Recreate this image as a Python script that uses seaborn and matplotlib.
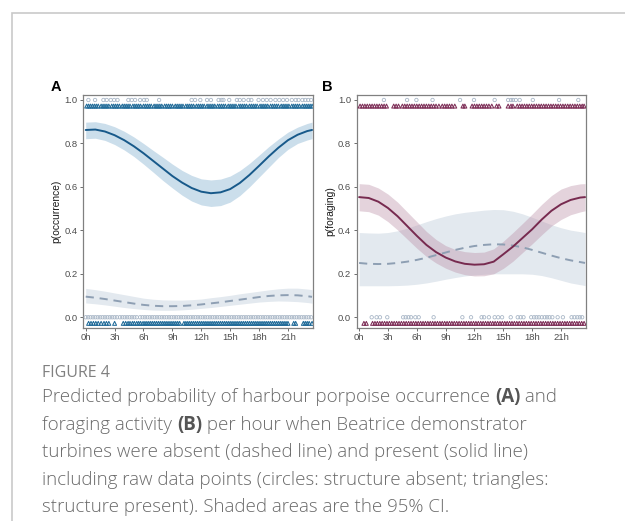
import numpy as np
import pandas as pd
import matplotlib
matplotlib.use("Agg")
import matplotlib.pyplot as plt
import seaborn as sns
from matplotlib.patches import Rectangle

# ---------------- data ----------------
hours = [0, 1, 2, 3, 4, 5, 6, 7, 8, 9, 10, 11, 12, 13, 14, 15, 16, 17, 18, 19, 20, 21, 22, 23, 23.5]

occ_present = [0.862, 0.864, 0.855, 0.838, 0.815, 0.787, 0.755, 0.72, 0.685, 0.65, 0.62, 0.595, 0.578,
               0.571, 0.575, 0.59, 0.618, 0.655, 0.697, 0.74, 0.78, 0.815, 0.84, 0.857, 0.862]
occ_present_lo = [0.822, 0.824, 0.814, 0.795, 0.77, 0.74, 0.705, 0.668, 0.63, 0.595, 0.562, 0.535, 0.517,
                  0.51, 0.514, 0.53, 0.56, 0.6, 0.645, 0.69, 0.735, 0.773, 0.8, 0.816, 0.822]
occ_present_hi = [0.898, 0.9, 0.892, 0.877, 0.856, 0.83, 0.8, 0.768, 0.737, 0.705, 0.676, 0.653, 0.637,
                  0.632, 0.636, 0.65, 0.675, 0.708, 0.746, 0.785, 0.82, 0.852, 0.875, 0.892, 0.898]
occ_absent = [0.095, 0.09, 0.084, 0.077, 0.07, 0.063, 0.057, 0.053, 0.051, 0.051, 0.052, 0.055, 0.059,
              0.064, 0.069, 0.075, 0.081, 0.087, 0.093, 0.098, 0.101, 0.102, 0.101, 0.097, 0.094]
occ_absent_lo = [0.066, 0.062, 0.057, 0.051, 0.045, 0.04, 0.036, 0.033, 0.032, 0.032, 0.034, 0.037, 0.041,
                 0.045, 0.05, 0.055, 0.06, 0.065, 0.07, 0.073, 0.075, 0.074, 0.072, 0.068, 0.065]
occ_absent_hi = [0.133, 0.127, 0.12, 0.112, 0.104, 0.096, 0.088, 0.083, 0.08, 0.079, 0.079, 0.081, 0.084,
                 0.09, 0.095, 0.101, 0.108, 0.114, 0.12, 0.126, 0.131, 0.134, 0.134, 0.13, 0.127]

for_present = [0.553, 0.549, 0.532, 0.503, 0.465, 0.42, 0.375, 0.333, 0.3, 0.275, 0.257, 0.246, 0.242,
               0.244, 0.256, 0.29, 0.325, 0.365, 0.405, 0.45, 0.49, 0.52, 0.54, 0.551, 0.553]
for_present_lo = [0.49, 0.486, 0.47, 0.44, 0.402, 0.36, 0.318, 0.28, 0.25, 0.226, 0.208, 0.196, 0.19,
                  0.191, 0.2, 0.225, 0.258, 0.298, 0.338, 0.38, 0.42, 0.45, 0.472, 0.485, 0.49]
for_present_hi = [0.615, 0.612, 0.595, 0.567, 0.53, 0.485, 0.44, 0.395, 0.358, 0.33, 0.312, 0.302, 0.298,
                  0.3, 0.315, 0.35, 0.39, 0.432, 0.475, 0.52, 0.56, 0.59, 0.606, 0.614, 0.615]
for_absent = [0.25, 0.246, 0.245, 0.246, 0.25, 0.256, 0.264, 0.274, 0.286, 0.298, 0.31, 0.32, 0.328,
              0.333, 0.336, 0.335, 0.33, 0.322, 0.31, 0.297, 0.284, 0.272, 0.262, 0.254, 0.25]
for_absent_lo = [0.145, 0.145, 0.145, 0.145, 0.146, 0.148, 0.152, 0.158, 0.166, 0.175, 0.183, 0.19, 0.195,
                 0.198, 0.2, 0.2, 0.2, 0.2, 0.198, 0.192, 0.182, 0.17, 0.158, 0.15, 0.146]
for_absent_hi = [0.39, 0.388, 0.387, 0.39, 0.398, 0.41, 0.425, 0.44, 0.454, 0.466, 0.476, 0.483, 0.488,
                 0.493, 0.496, 0.495, 0.488, 0.476, 0.46, 0.443, 0.426, 0.412, 0.401, 0.394, 0.39]

# raw observations (hour of detection)
occ_top_absent = [0.28, 0.97, 1.84, 2.18, 2.6, 2.95, 3.3, 4.43, 4.78, 5.13, 5.65, 6.06, 6.34, 7.62, 11.0,
                  11.36, 11.9, 12.6, 13.0, 13.8, 14.1, 14.3, 14.9, 15.7, 16.0, 16.4, 16.9, 17.2, 17.95,
                  18.4, 18.8, 19.2, 19.7, 20.1, 20.5, 20.9, 21.4, 21.8, 22.1, 22.5, 22.8, 23.1, 23.4]
occ_top_present = [0.1, 0.3, 0.5, 0.7, 0.9, 1.1, 1.3, 1.6, 1.8, 2.0, 2.2, 2.4, 2.7, 2.9, 3.1, 3.3, 3.5,
                   3.8, 4.0, 4.2, 4.4, 4.6, 4.9, 5.1, 5.3, 5.5, 5.7, 6.0, 6.2, 6.4, 6.6, 6.8, 7.1, 7.3,
                   7.5, 7.7, 7.9, 8.2, 8.4, 8.6, 8.8, 9.0, 9.3, 9.5, 9.7, 9.9, 10.1, 10.4, 10.6, 10.8,
                   11.0, 11.2, 11.5, 11.7, 11.9, 12.1, 12.3, 12.6, 12.8, 13.0, 13.2, 13.4, 13.7, 13.9,
                   14.1, 14.3, 14.5, 14.8, 15.0, 15.2, 15.4, 15.6, 15.9, 16.1, 16.3, 16.5, 16.7, 17.0,
                   17.2, 17.4, 17.6, 17.8, 18.1, 18.3, 18.5, 18.7, 18.9, 19.2, 19.4, 19.6, 19.8, 20.0,
                   20.3, 20.5, 20.7, 20.9, 21.1, 21.4, 21.6, 21.8, 22.0, 22.2, 22.5, 22.7, 22.9, 23.1,
                   23.3, 23.5]
occ_bot_absent = [0.0, 0.25, 0.5, 0.75, 1.0, 1.25, 1.5, 1.75, 2.0, 2.25, 2.5, 2.75, 3.0, 3.25, 3.55,
                  3.8, 4.05, 4.3, 4.55, 4.8, 5.05, 5.3, 5.65, 5.9, 6.15, 6.4, 6.65, 6.9, 7.15, 7.4, 7.65,
                  7.9, 8.15, 8.4, 8.65, 8.9, 9.15, 9.4, 9.65, 9.9, 10.15, 10.4, 10.65, 10.9, 11.15, 11.4,
                  11.65, 11.9, 12.15, 12.4, 12.65, 12.9, 13.15, 13.4, 13.65, 13.9, 14.15, 14.4, 14.65,
                  14.9, 15.15, 15.4, 15.65, 15.9, 16.15, 16.4, 16.65, 16.9, 17.15, 17.4, 17.65, 17.9,
                  18.15, 18.4, 18.65, 18.9, 19.15, 19.4, 19.65, 19.9, 20.15, 20.4, 20.65, 20.9, 21.15,
                  21.4, 21.65, 21.9, 22.15, 22.4, 22.65, 22.9, 23.15, 23.4]
occ_bot_present = [0.3, 0.55, 0.8, 1.05, 1.3, 1.6, 1.9, 2.15, 2.4, 3.0, 3.9, 4.15, 4.4, 4.6, 4.85, 5.05,
                   5.3, 5.5, 5.7, 5.95, 6.15, 6.35, 6.55, 6.75, 6.95, 7.15, 7.35, 7.55, 7.75, 7.95, 8.15,
                   8.35, 8.55, 8.75, 8.95, 9.15, 9.35, 9.55, 9.75, 10.2, 10.4, 10.6, 10.8, 11.0, 11.2,
                   11.4, 11.6, 11.8, 12.0, 12.2, 12.4, 12.6, 12.8, 13.0, 13.2, 13.4, 13.6, 13.8, 14.0,
                   14.2, 14.4, 14.6, 14.8, 15.0, 15.2, 15.4, 15.6, 15.8, 16.0, 16.2, 16.4, 16.6, 16.8,
                   17.0, 17.2, 17.4, 17.6, 17.8, 18.0, 18.2, 18.4, 18.6, 18.8, 19.0, 19.2, 19.4, 19.6,
                   19.8, 20.0, 20.2, 20.4, 20.6, 20.8, 21.0, 21.6, 21.8, 22.6, 22.8, 23.0, 23.2, 23.5]

for_top_absent = [2.58, 4.99, 5.96, 7.64, 10.5, 11.95, 14.1, 15.5, 15.8, 16.0, 16.3, 16.7, 18.07, 20.8, 22.8]
for_top_present = [0.1, 0.35, 0.6, 0.85, 1.1, 1.35, 1.6, 1.85, 2.1, 2.35, 2.6, 2.85, 3.6, 3.85, 4.1,
                   4.5, 4.75, 5.0, 5.25, 5.5, 5.75, 6.0, 6.25, 6.5, 6.75, 7.0, 7.25, 7.5, 7.75, 8.0, 8.3,
                   8.65, 8.9, 9.15, 9.4, 9.65, 9.95, 10.8, 11.0, 11.75, 12.0, 12.25, 12.5, 12.75, 13.0,
                   13.25, 13.5, 13.8, 14.3, 14.55, 15.5, 15.8, 16.0, 16.45, 16.7, 16.95, 17.2, 17.45,
                   17.7, 17.95, 18.2, 18.45, 18.7, 18.95, 19.2, 19.45, 19.7, 19.95, 20.2, 20.45, 20.7,
                   20.95, 21.2, 21.45, 21.7, 21.95, 22.2, 22.45, 22.7, 22.95, 23.2, 23.4]
for_bot_absent = [1.31, 1.82, 2.17, 2.93, 4.58, 4.85, 5.13, 5.4, 5.85, 6.2, 7.75, 10.74, 11.64, 12.74,
                  13.0, 13.5, 14.1, 14.46, 14.87, 15.77, 16.5, 16.8, 17.1, 17.9, 18.2, 18.45, 18.7, 19.0,
                  19.3, 19.55, 19.8, 20.1, 20.65, 21.2, 22.1, 22.4, 22.7, 22.96, 23.2]
for_bot_present = [0.5, 0.75, 1.4, 1.65, 1.9, 2.15, 2.4, 2.65, 2.9, 3.15, 3.4, 3.65, 3.9, 4.15, 4.4,
                   4.65, 4.9, 5.15, 5.4, 5.65, 5.9, 6.15, 6.4, 6.65, 6.9, 7.15, 7.4, 7.65, 7.9, 8.15,
                   8.4, 8.65, 8.9, 9.15, 9.4, 9.65, 9.9, 10.15, 10.4, 10.65, 10.9, 11.15, 11.4, 11.65,
                   11.9, 12.15, 12.4, 12.65, 12.9, 13.15, 13.4, 13.65, 13.9, 14.15, 14.4, 14.65, 14.9,
                   15.15, 15.4, 15.65, 15.9, 16.15, 16.4, 16.65, 16.9, 17.15, 17.4, 17.65, 17.9, 18.15,
                   18.4, 18.65, 18.9, 19.15, 19.4, 19.65, 19.9, 20.15, 20.4, 20.65, 20.9, 21.15, 21.4,
                   21.65, 21.9, 22.15, 22.4, 22.65, 22.9, 23.15, 23.4]

tick_hours = [0, 3, 6, 9, 12, 15, 18, 21]
tick_hour_labels = ["0h", "3h", "6h", "9h", "12h", "15h", "18h", "21h"]
y_ticks = [0.0, 0.2, 0.4, 0.6, 0.8, 1.0]

# ---------------- style ----------------
sns.set_style("white")
plt.rcParams["font.family"] = ["Liberation Sans", "DejaVu Sans"]

W, H = 625, 521
fig = plt.figure(figsize=(W / 100, H / 100), dpi=100)

# outer frame
fig.patches.append(Rectangle((12 / W, -0.1), 1.2, 1 - 13 / H + 0.1, transform=fig.transFigure,
                             fill=False, edgecolor="#c9c9c9", linewidth=1.2))

circle_col = "#a9b7c7"
dash_col = "#8e9fb3"
dash_band = "#e3e9ef"


def panel(ax, present, p_lo, p_hi, absent, a_lo, a_hi, top_abs, top_pres, bot_abs, bot_pres,
          line_col, band_col, band_alpha, tri_col, ylabel, letter, letter_dx):
    df = pd.DataFrame({"hour": hours, "present": present, "p_lo": p_lo, "p_hi": p_hi,
                       "absent": absent, "a_lo": a_lo, "a_hi": a_hi})
    ax.fill_between(df["hour"], df["a_lo"], df["a_hi"], color=dash_band, lw=0, zorder=1)
    ax.fill_between(df["hour"], df["p_lo"], df["p_hi"], color=band_col, alpha=band_alpha, lw=0, zorder=2)
    sns.lineplot(data=df, x="hour", y="absent", ax=ax, color=dash_col, lw=1.4, zorder=3)
    ax.lines[-1].set_dashes([4.2, 3.0])
    sns.lineplot(data=df, x="hour", y="present", ax=ax, color=line_col, lw=1.4, zorder=4)

    sns.scatterplot(x=top_abs, y=[1.0] * len(top_abs), ax=ax, marker="o", s=6, color=circle_col,
                    facecolors="none", edgecolor=circle_col, linewidth=0.6, zorder=5)
    sns.scatterplot(x=bot_abs, y=[0.0] * len(bot_abs), ax=ax, marker="o", s=6, color=circle_col,
                    facecolors="none", edgecolor=circle_col, linewidth=0.6, zorder=5)
    sns.scatterplot(x=top_pres, y=[0.972] * len(top_pres), ax=ax, marker="^", s=8, color=tri_col,
                    facecolors="none", edgecolor=tri_col, linewidth=0.75, zorder=5)
    sns.scatterplot(x=bot_pres, y=[-0.028] * len(bot_pres), ax=ax, marker="^", s=8, color=tri_col,
                    facecolors="none", edgecolor=tri_col, linewidth=0.75, zorder=5)

    ax.set_xlim(-0.25, 23.6)
    ax.set_ylim(-0.048, 1.023)
    ax.set_xticks(tick_hours)
    ax.set_xticklabels(tick_hour_labels)
    ax.set_yticks(y_ticks)
    ax.set_yticklabels([f"{v:.1f}" for v in y_ticks])
    ax.set_xlabel("")
    ax.set_ylabel(ylabel, fontsize=7.4, color="#1a1a1a", labelpad=2)
    ax.tick_params(axis="both", direction="out", length=2.5, width=0.6, color="#555555",
                   labelsize=6.8, labelcolor="#4d4d4d", pad=1.5, left=True, bottom=True)
    for sp in ax.spines.values():
        sp.set_visible(True)
        sp.set_color("#808080")
        sp.set_linewidth(0.9)
    ax.annotate(letter, xy=(0, 1), xycoords="axes fraction", xytext=(letter_dx, 1),
                textcoords="offset pixels", fontsize=10.5, fontweight="bold", color="black",
                va="bottom", ha="left")


axA = fig.add_axes([83.3 / W, 1 - 327.7 / H, (313 - 83.3) / W, (327.7 - 95) / H])
axB = fig.add_axes([356.7 / W, 1 - 327.7 / H, (586 - 356.7) / W, (327.7 - 95) / H])

panel(axA, occ_present, occ_present_lo, occ_present_hi, occ_absent, occ_absent_lo, occ_absent_hi,
      occ_top_absent, occ_top_present, occ_bot_absent, occ_bot_present,
      "#17598a", "#a9c8de", 0.6, "#1f6a98", "p(occurrence)", "A", -33)
panel(axB, for_present, for_present_lo, for_present_hi, for_absent, for_absent_lo, for_absent_hi,
      for_top_absent, for_top_present, for_bot_absent, for_bot_present,
      "#772a4f", "#b98ca4", 0.38, "#7d2e57", "p(foraging)", "B", -35)

# ---------------- caption ----------------
cap_font = ["Open Sans", "DejaVu Sans"]
fig.text(42 / W, 1 - 373 / H, "FIGURE 4", fontsize=11.5, color="#808080", family=cap_font,
         va="center", ha="left")

renderer = fig.canvas.get_renderer()
cap_lines = [
    [("Predicted probability of harbour porpoise occurrence ", False), ("(A)", True), (" and", False)],
    [("foraging activity ", False), ("(B)", True), (" per hour when Beatrice demonstrator", False)],
    [("turbines were absent (dashed line) and present (solid line)", False)],
    [("including raw data points (circles: structure absent; triangles:", False)],
    [("structure present). Shaded areas are the 95% CI.", False)],
]
y0 = 397
for i, parts in enumerate(cap_lines):
    x = 42 / W
    y = 1 - (y0 + 27.6 * i) / H
    for txt, bold in parts:
        t = fig.text(x, y, txt, fontsize=13.5, color="#555555" if bold else "#6a6a6a",
                     family=cap_font, fontweight="bold" if bold else "light", va="center", ha="left")
        bb = t.get_window_extent(renderer)
        x += bb.width / fig.bbox.width

fig.savefig("out.png", dpi=100)
